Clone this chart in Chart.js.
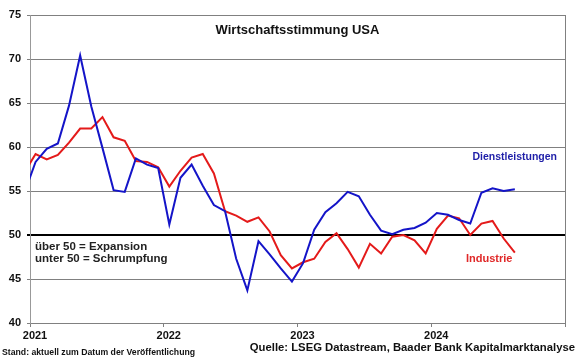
<!DOCTYPE html>
<html>
<head>
<meta charset="utf-8">
<script src="https://cdn.jsdelivr.net/npm/chart.js@4/dist/chart.umd.min.js"></script>
<style>
    body { margin: 0; background: #fff; }
    #wrap { width: 580px; height: 359px; }
</style>
</head>
<body>
<div id="wrap"><canvas id="pmiChart" width="580" height="359"></canvas></div>
<script>
// monthly values, Dec 2020 .. Aug 2024
const months = [
    '2020-12',
    '2021-01', '2021-02', '2021-03', '2021-04', '2021-05', '2021-06',
    '2021-07', '2021-08', '2021-09', '2021-10', '2021-11', '2021-12',
    '2022-01', '2022-02', '2022-03', '2022-04', '2022-05', '2022-06',
    '2022-07', '2022-08', '2022-09', '2022-10', '2022-11', '2022-12',
    '2023-01', '2023-02', '2023-03', '2023-04', '2023-05', '2023-06',
    '2023-07', '2023-08', '2023-09', '2023-10', '2023-11', '2023-12',
    '2024-01', '2024-02', '2024-03', '2024-04', '2024-05', '2024-06',
    '2024-07', '2024-08'
];
const dienstleistungen = [
    54.8,
    58.3, 59.8, 60.4, 64.7, 70.4, 64.6, 59.9, 55.1, 54.9, 58.7, 58.0, 57.6,
    51.2, 56.5, 58.0, 55.6, 53.4, 52.7, 47.3, 43.7, 49.3, 47.8, 46.2, 44.7,
    46.8, 50.6, 52.6, 53.6, 54.9, 54.4, 52.3, 50.5, 50.1, 50.6, 50.8, 51.4,
    52.5, 52.3, 51.7, 51.3, 54.8, 55.3, 55.0, 55.2
];
const industrie = [
    57.1,
    59.2, 58.6, 59.1, 60.5, 62.1, 62.1, 63.4, 61.1, 60.7, 58.4, 58.3, 57.7,
    55.5, 57.3, 58.8, 59.2, 57.0, 52.7, 52.2, 51.5, 52.0, 50.4, 47.7, 46.2,
    46.9, 47.3, 49.2, 50.2, 48.4, 46.3, 49.0, 47.9, 49.8, 50.0, 49.4, 47.9,
    50.7, 52.2, 51.9, 50.0, 51.3, 51.6, 49.6, 48.0
];
const yearLabels = ['2021', '2022', '2023', '2024', ''];

const FONT = "'Liberation Sans', Arial, sans-serif";
const BLUE = '#1414c8';
const RED = '#e41a1a';

// months since Jan 2021, plotted mid-month
const monthPos = function (m) {
    const parts = m.split('-');
    return (parseInt(parts[0]) - 2021) * 12 + parseInt(parts[1]) - 1 + 0.5;
};

const toPoints = function (values) {
    return values.map((v, i) => ({ x: monthPos(months[i]), y: v }));
};

const overlay = {
    id: 'overlay',
    beforeDatasetsDraw(chart) {
        const ctx = chart.ctx;
        const area = chart.chartArea;
        ctx.save();
        ctx.strokeStyle = '#808080';
        ctx.lineWidth = 1;
        ctx.beginPath();
        ctx.moveTo(Math.round(area.right) + 0.5, area.top);
        ctx.lineTo(Math.round(area.right) + 0.5, area.bottom);
        ctx.stroke();
        ctx.restore();
    },
    afterDraw(chart) {
        const ctx = chart.ctx;
        const area = chart.chartArea;
        const y = chart.scales.y;
        ctx.save();
        ctx.textBaseline = 'middle';

        ctx.fillStyle = '#111';
        ctx.font = 'bold 13px ' + FONT;
        ctx.textAlign = 'center';
        ctx.fillText('Wirtschaftsstimmung USA', (area.left + area.right) / 2, 30);

        ctx.textAlign = 'left';
        ctx.fillStyle = '#222';
        ctx.font = 'bold 11.5px ' + FONT;
        ctx.fillText('über 50 = Expansion', area.left + 5, y.getPixelForValue(48.7));
        ctx.fillText('unter 50 = Schrumpfung', area.left + 5, y.getPixelForValue(47.25));

        ctx.font = 'bold 10.5px ' + FONT;
        ctx.fillStyle = '#1e1ea8';
        ctx.textAlign = 'right';
        ctx.fillText('Dienstleistungen', area.right - 8, y.getPixelForValue(58.8));
        ctx.font = 'bold 11px ' + FONT;
        ctx.fillStyle = '#e02828';
        ctx.textAlign = 'left';
        ctx.fillText('Industrie', 466, y.getPixelForValue(47.25));

        ctx.fillStyle = '#111';
        ctx.font = 'bold 8.7px ' + FONT;
        ctx.fillText('Stand: aktuell zum Datum der Veröffentlichung', 2, 353);
        ctx.font = 'bold 11.3px ' + FONT;
        ctx.textAlign = 'right';
        ctx.fillText('Quelle: LSEG Datastream, Baader Bank Kapitalmarktanalyse', 575, 348);
        ctx.restore();
    }
};

const showChart = function () {
    const ctx = document.getElementById('pmiChart').getContext('2d');
    new Chart(ctx, {
        type: 'line',
        data: {
            datasets: [{
                label: 'Dienstleistungen',
                data: toPoints(dienstleistungen),
                borderColor: BLUE,
                borderWidth: 2,
                pointRadius: 0,
                tension: 0,
                clip: 0
            }, {
                label: 'Industrie',
                data: toPoints(industrie),
                borderColor: RED,
                borderWidth: 2,
                pointRadius: 0,
                tension: 0,
                clip: 0
            }]
        },
        options: {
            responsive: false,
            animation: false,
            devicePixelRatio: 1,
            layout: { padding: { top: 15, right: 15, left: 0, bottom: 0 } },
            plugins: {
                legend: { display: false },
                title: { display: false },
                tooltip: { enabled: false }
            },
            scales: {
                x: {
                    type: 'linear',
                    min: 0,
                    max: 48,
                    afterFit: function (scale) { scale.height = 36; },
                    grid: {
                        drawOnChartArea: false,
                        drawTicks: true,
                        tickLength: 4,
                        color: '#808080'
                    },
                    border: { color: '#808080' },
                    ticks: {
                        stepSize: 12,
                        padding: 2,
                        labelOffset: 5,
                        maxRotation: 0,
                        autoSkip: false,
                        color: '#111',
                        font: { family: FONT, size: 11, weight: 'bold' },
                        callback: function (value) { return yearLabels[value / 12]; }
                    }
                },
                y: {
                    min: 40,
                    max: 75,
                    afterFit: function (scale) { scale.width = 30; },
                    grid: {
                        tickLength: 3,
                        color: function (c) { return c.tick && c.tick.value === 50 ? '#000' : '#808080'; },
                        lineWidth: function (c) { return c.tick && c.tick.value === 50 ? 2 : 1; }
                    },
                    border: { color: '#999' },
                    ticks: {
                        stepSize: 5,
                        padding: 6,
                        color: '#111',
                        font: { family: FONT, size: 11, weight: 'bold' }
                    }
                }
            }
        },
        plugins: [overlay]
    });
};

showChart();
</script>
</body>
</html>
